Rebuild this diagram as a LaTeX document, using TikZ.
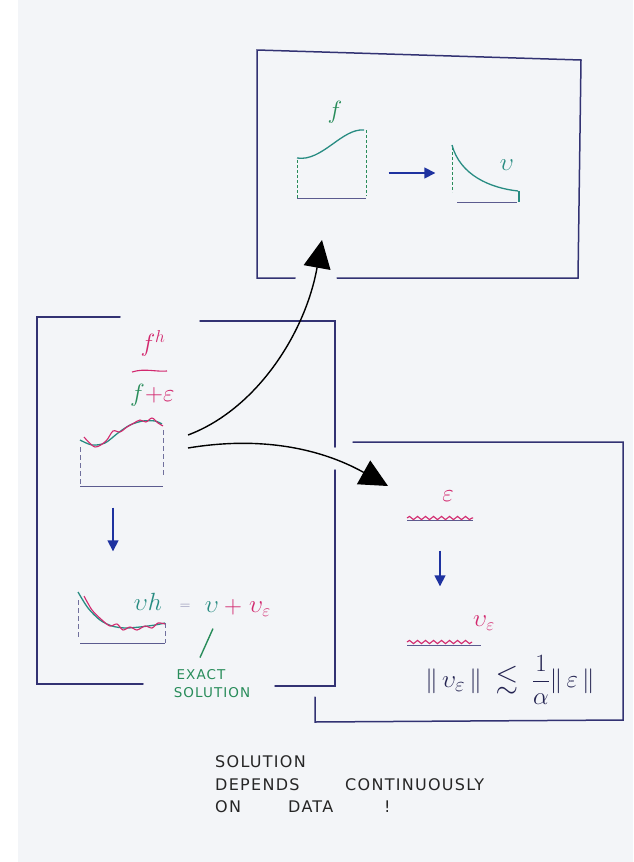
\documentclass[tikz,border=0pt]{standalone}
\usepackage{amsmath,amssymb}
\usepackage{fontspec}
\newfontfamily\capsfont[LetterSpace=8]{DejaVu Sans}
\usetikzlibrary{arrows.meta,decorations.pathmorphing}
\definecolor{boxcol}{RGB}{50,50,115}
\definecolor{tealc}{RGB}{40,140,130}
\definecolor{magc}{RGB}{210,40,110}
\definecolor{grnc}{RGB}{40,140,90}
\definecolor{arrblue}{RGB}{30,50,160}
\definecolor{paper}{RGB}{243,245,248}
\tikzset{
  boxline/.style={draw=boxcol, line width=1.5pt, line cap=round},
  axisline/.style={draw=boxcol!80, line width=1pt},
  dashline/.style={draw=grnc, line width=1pt, dash pattern=on 3pt off 2pt},
  graydash/.style={draw=boxcol!70, line width=0.9pt, dash pattern=on 5pt off 3pt},
  tealcurve/.style={draw=tealc, line width=1.3pt},
  magcurve/.style={draw=magc, line width=1.1pt},
  bigarrow/.style={draw=black, line width=1.4pt, -{Triangle[length=28pt,width=27pt]}},
  bluearrow/.style={draw=arrblue, line width=1.6pt, -{Triangle[length=11pt,width=11pt]}},
  wavy/.style={draw=magc, line width=1.1pt, decorate, decoration={snake, amplitude=1.6pt, segment length=8pt}},
  lbl/.style={inner sep=0pt, font=\fontsize{24}{28}\selectfont},
  caps/.style={inner sep=0pt, anchor=west, font=\capsfont\fontsize{16}{19}\selectfont, text=black!85},
  gcaps/.style={inner sep=0pt, text=grnc, font=\capsfont\fontsize{13.5}{16}\selectfont}
}
\begin{document}
\begin{tikzpicture}[x=1pt,y=-1pt]
\useasboundingbox (0,0) rectangle (633,862);
\fill[paper] (18,0) rectangle (633,862);

% ---------- top box ----------
\draw[boxline] (295,278) -- (257,278) -- (257,50) -- (581,60) -- (578,278) -- (337,278);
\node[lbl, text=grnc] (f) at (335,112) {$f$};
\draw[dashline] (297,160) -- (297,198);
\draw[axisline] (297,198) -- (366,198);
\draw[dashline] (366,130) -- (366,196);
\draw[tealcurve] (297,158) .. controls (322,162) and (342,128) .. (364,130);
\node[inner sep=0pt] (a1s) at (388,173) {};
\node[inner sep=0pt] (a1e) at (436,173) {};
\draw[bluearrow] (a1s) -- (a1e);
\draw[dashline] (452,147) -- (452,192);
\draw[tealcurve] (452,145) .. controls (460,175) and (490,188) .. (518,191);
\draw[tealcurve] (519,191) -- (519,202);
\draw[axisline] (457,202) -- (517,202);
\node[lbl, text=tealc] (u) at (507,165) {$\upsilon$};

% ---------- left box ----------
\draw[boxline] (120,317) -- (37,317) -- (37,684) -- (143,684);
\draw[boxline] (200,321) -- (335,321) -- (335,447);
\draw[boxline] (335,470) -- (335,686) -- (275,686);
\node[lbl, text=magc] (fh) at (153,343) {$f^{h}$};
\draw[magcurve] (132,372) .. controls (145,368) and (155,372) .. (167,371);
\node[lbl, text=grnc, anchor=east] (ff) at (145,395) {$f$};
\node[lbl, text=magc, anchor=west] (fe) at (145,395) {$+\varepsilon$};
\draw[graydash] (80,447) -- (80,485);
\draw[axisline] (80,486) -- (163,486);
\draw[graydash] (163,430) -- (163,477);
\draw[tealcurve] plot[smooth] coordinates {(80,440) (92,445) (105,443) (118,433) (130,425) (143,421) (155,421) (162,424)};
\draw[magcurve] plot[smooth] coordinates {(84,437) (95,447) (106,441) (113,431) (120,432) (127,427) (134,423) (140,420) (146,422) (152,418) (158,423) (163,426)};
\node[inner sep=0pt] (a2s) at (113,507) {};
\node[inner sep=0pt] (a2e) at (113,552) {};
\draw[bluearrow] (a2s) -- (a2e);
\draw[graydash] (78,600) -- (78,638);
\draw[axisline] (80,643) -- (165,643);
\draw[graydash] (165,623) -- (165,643);
\draw[tealcurve] plot[smooth] coordinates {(78,592) (88,608) (100,620) (112,626) (125,628) (140,627) (155,625) (165,623)};
\draw[magcurve] plot[smooth] coordinates {(84,596) (92,610) (102,620) (110,626) (117,624) (123,630) (130,627) (137,630) (145,626) (152,628) (158,623) (165,624)};
\node[lbl, text=tealc] (uh) at (148,602) {$\upsilon h$};
\node[lbl, text=boxcol!60] (eq) at (185,607) {\fontsize{14}{16}\selectfont$=$};
\node[lbl, text=tealc] (u2) at (212,607) {$\upsilon$};
\node[lbl, text=magc] (plus) at (233,607) {$+$};
\node[lbl, text=magc] (ue) at (260,609) {$\upsilon_{\varepsilon}$};
\draw[draw=grnc, line width=1.4pt] (u2.south) ++(1,16) coordinate (s1) -- ++(-13,29) coordinate (s2);
\node[gcaps] (ex1) at (201,675) {EXACT};
\node[gcaps] (ex2) at (212,693) {SOLUTION};

% ---------- right box ----------
\draw[boxline] (353,442) -- (623,442) -- (623,720) -- (315,722) -- (315,697);
\node[lbl, text=magc] (eps) at (448,496) {$\varepsilon$};
\draw[axisline] (407,520) -- (473,520);
\draw[wavy] (407,518) -- (473,518);
\node[inner sep=0pt] (a3s) at (440,550) {};
\node[inner sep=0pt] (a3e) at (440,587) {};
\draw[bluearrow] (a3s) -- (a3e);
\node[lbl, text=magc] (ue2) at (484,623) {$\upsilon_{\varepsilon}$};
\draw[axisline] (407,645) -- (481,645);
\draw[wavy] (407,642) -- (472,642);
\node[lbl, text=boxcol!70!black, font=\fontsize{29}{33}\selectfont] (norm) at (510,680) {$\|\,\upsilon_{\varepsilon}\,\|\; \lesssim\; \dfrac{1}{\alpha}\|\,\varepsilon\,\|$};

% ---------- connectors ----------
\coordinate (c1) at (188,435);
\coordinate (c2) at (188,448);
\coordinate (t1) at (322,240);
\coordinate (t2) at (388,486);
\draw[bigarrow] (c1) .. controls (255,410) and (305,335) .. (t1);
\draw[bigarrow] (c2) .. controls (260,436) and (320,448) .. (t2);

% ---------- caption ----------
\node[caps] (cap1) at (215,762) {SOLUTION};
\node[caps] (cap2a) at (215,785) {DEPENDS};
\node[caps] (cap2b) at (345,785) {CONTINUOUSLY};
\node[caps] (cap3a) at (215,807) {ON};
\node[caps] (cap3b) at (288,807) {DATA};
\node[caps] (cap3c) at (384,807) {!};
\end{tikzpicture}
\end{document}
